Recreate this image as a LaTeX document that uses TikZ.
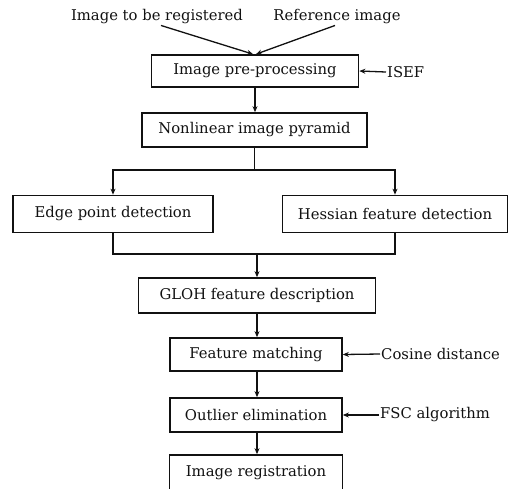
\documentclass[tikz,border=0pt]{standalone}
\usepackage{fontspec}
\setmainfont{DejaVu Serif}
\usetikzlibrary{arrows.meta,calc}
\definecolor{ink}{HTML}{111111}

\begin{document}
\begin{tikzpicture}[
  x=1pt, y=-1pt, font=\fontsize{14.8}{17}\selectfont,
  stage/.style={draw=ink, line width=1.7pt, text=ink, inner sep=0pt},
  flow/.style={draw=ink, line width=1.3pt, -{Stealth[length=6pt,width=5pt]}},
  link/.style={draw=ink, line width=1.3pt},
  input/.style={text=ink, inner sep=1pt},
  param/.style={text=ink, inner sep=1pt, anchor=west}
]
\useasboundingbox (0,0) rectangle (508,488);
\clip (0,0) rectangle (508,488);

% inputs and pre-processing
\node[input] (moving) at (157,17) {Image to be registered};
\node[input] (fixed) at (337,17) {Reference image};
\node[stage, minimum width=207pt, minimum height=32pt] (pre) at (255,71) {Image pre-processing};
\node[param] (isef) at (386,72) {ISEF};

\node[stage, minimum width=225pt, minimum height=34pt] (pyr) at (254.5,130) {Nonlinear image pyramid};

% two detectors
\node[stage, minimum width=200pt, minimum height=37pt] (edge) at (113,214) {Edge point detection};
\node[stage, minimum width=225pt, minimum height=37pt] (hess) at (395,214) {Hessian feature detection};
\coordinate (split) at (pyr.south |- 0,170);
\coordinate (merge) at (257,254);

\node[stage, minimum width=237pt, minimum height=35pt] (gloh) at (257,295.5) {GLOH feature description};
\node[stage, minimum width=172pt, minimum height=33pt] (match) at (256,354.5) {Feature matching};
\node[param] (cos) at (380,354) {Cosine distance};
\node[stage, minimum width=172pt, minimum height=34pt] (outl) at (256,415) {Outlier elimination};
\node[param] (fsc) at (379,415) {FSC algorithm};
\node[stage, minimum width=173pt, minimum height=36pt] (reg) at (256,473) {Image registration};

\draw[flow] ($(moving.south)+(4,0)$) -- ($(pre.north)+(-2,0)$);
\draw[flow] ($(fixed.south)+(-2,0)$) -- ($(pre.north)+(1,0)$);
\draw[flow] (isef.west) -- (pre.east);
\draw[flow] (pre) -- (pyr.north -| pre.south);
\draw[link] (pyr) -- (split);
\draw[flow] (split) -| (edge.north);
\draw[flow] (split) -| (hess.north);
\draw[link] (edge.south) |- (merge);
\draw[link] (hess.south) |- (merge);
\draw[flow] (merge) -- (gloh.north -| merge);
\draw[flow] (gloh.south) -- (match.north -| gloh.south);
\draw[flow] (cos.west) -- (match.east);
\draw[flow] (match.south -| gloh.south) -- (outl.north -| gloh.south);
\draw[flow] (fsc.west) -- (outl.east);
\draw[flow] (outl.south -| gloh.south) -- (reg.north -| gloh.south);
\end{tikzpicture}
\end{document}
